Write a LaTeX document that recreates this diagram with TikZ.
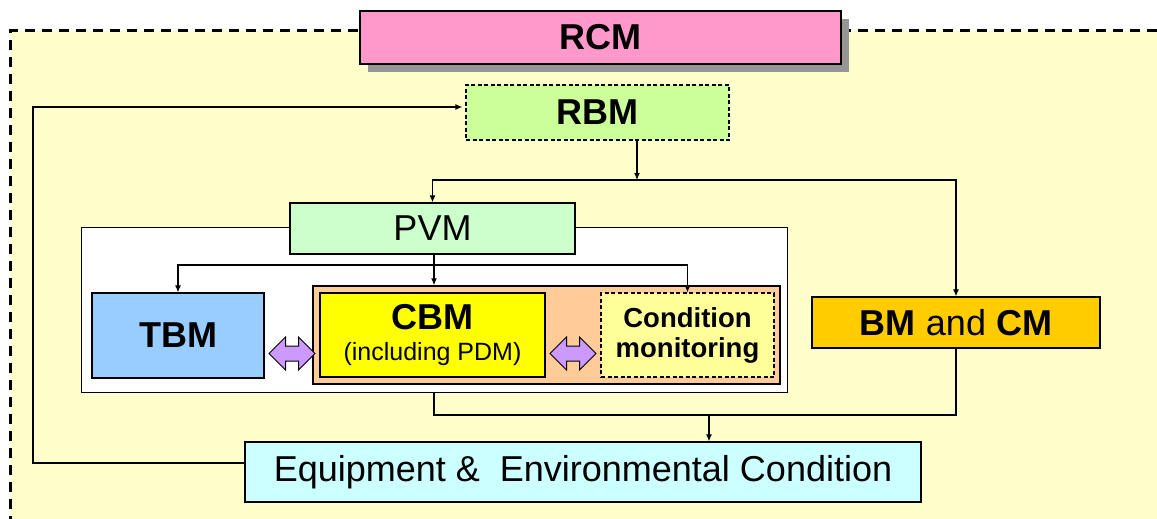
\documentclass[tikz,border=0pt]{standalone}
\usepackage{fontspec}
\setmainfont{Liberation Sans}
\usetikzlibrary{arrows.meta,shapes.arrows,shadows}
\definecolor{bgyellow}{HTML}{FFFFCC}
\definecolor{rcmpink}{HTML}{FF99CC}
\definecolor{rbmgreen}{HTML}{CCFF99}
\definecolor{pvmgreen}{HTML}{CCFFCC}
\definecolor{tbmblue}{HTML}{99CCFF}
\definecolor{cbmorange}{HTML}{FFCC99}
\definecolor{cbmyellow}{HTML}{FFFF00}
\definecolor{cmyellow}{HTML}{FFFF99}
\definecolor{bmcmorange}{HTML}{FFCC00}
\definecolor{equipcyan}{HTML}{CCFFFF}
\definecolor{swappurple}{HTML}{CC99FF}
\definecolor{shadowgray}{HTML}{969696}
\newcommand\boxfont{\fontsize{36}{40}\selectfont}
\newcommand\subfont{\fontsize{25}{31}\selectfont}
\begin{document}
\begin{tikzpicture}[x=1pt,y=-1pt,
  box/.style={draw=black,line width=1.3pt,inner sep=0pt,align=center},
  dashbox/.style={box,line width=1.1pt,dash pattern=on 4pt off 2.5pt},
  link/.style={line width=1.2pt},
  arr/.style={link,-{Latex[length=7pt,width=6pt]}},
  border/.style={line width=3pt,dash pattern=on 10pt off 7pt},
  bothway/.style={double arrow,draw=black,line width=1pt,fill=swappurple,
    inner xsep=0pt,inner ysep=7pt,minimum height=46pt,double arrow head extend=9pt}]
  \useasboundingbox (0,0) rectangle (1157,519);
  \fill[bgyellow] (10,31) rectangle (1157,519);
  \draw[border] (1157,31) -- (10,31) -- (10,519);

  \node (rcm) [box,fill=rcmpink,minimum width=481pt,minimum height=53pt,
    font=\boxfont\bfseries,
    drop shadow={shadow xshift=8pt,shadow yshift=-8pt,fill=shadowgray,opacity=1}]
    at (600.5,37.5) {RCM};
  \node (rbm) [dashbox,fill=rbmgreen,minimum width=263pt,minimum height=55pt,
    font=\boxfont\bfseries] at (597.5,112.5) {RBM};
  \node (pvmframe) [box,fill=white,line width=0.9pt,minimum width=706pt,
    minimum height=165pt] at (434,309.5) {};
  \node (pvm) [box,fill=pvmgreen,minimum width=285pt,minimum height=51pt,
    font=\boxfont] at (432.5,228.5) {PVM};
  \node (cbmframe) [box,fill=cbmorange,line width=1.5pt,minimum width=467pt,
    minimum height=98pt] at (546.5,335) {};
  \node (tbm) [box,fill=tbmblue,minimum width=172pt,minimum height=85pt,
    font=\boxfont\bfseries] at (178,335.5) {TBM};
  \node (cbm) [box,fill=cbmyellow,minimum width=225pt,minimum height=84pt,
    font=\subfont] at (432.5,335) {{\boxfont\bfseries CBM}\\(including PDM)};
  \node (cm) [dashbox,fill=cmyellow,minimum width=173pt,minimum height=84pt,
    font=\fontsize{27.5}{30}\selectfont\bfseries] at (687.5,335) {Condition\\monitoring};
  \node (bmcm) [box,fill=bmcmorange,minimum width=288pt,minimum height=51pt,
    font=\boxfont] at (956,322.5) {\textbf{BM} and \textbf{CM}};
  \node (equip) [box,fill=equipcyan,minimum width=676pt,minimum height=60pt,
    font=\boxfont] at (583,472) {Equipment \&~ Environmental Condition};
  \node (tbmcbm) [bothway] at (292,353.5) {};
  \node (cbmcm) [bothway] at (573,353.5) {};

  \coordinate (feedback) at (33,107);
  \coordinate (rbmsplit) at (637,180);
  \coordinate (pvmsplit) at (434,265);
  \coordinate (merge) at (709,415);
  \draw[arr,shorten >=3pt] ([yshift=9pt]equip.west) -| (feedback) -- ([yshift=5.5pt]rbm.west);
  \draw[arr] (rbm.south -| rbmsplit) -- (rbmsplit);
  \draw[arr] (rbmsplit) -| (pvm.north);
  \draw[arr] (rbmsplit) -| (bmcm.north);
  \draw[link] (pvm.south -| pvmsplit) -- (pvmsplit);
  \draw[arr] (pvmsplit) -- (pvmsplit |- cbmframe.north);
  \draw[arr] (pvmsplit) -| (tbm.north);
  \draw[arr] (pvmsplit) -| (cm.north);
  \draw[link] (pvmframe.south -| pvmsplit) |- (merge);
  \draw[link] (bmcm.south) |- (merge);
  \draw[arr] (merge) -- (merge |- equip.north);
\end{tikzpicture}
\end{document}
